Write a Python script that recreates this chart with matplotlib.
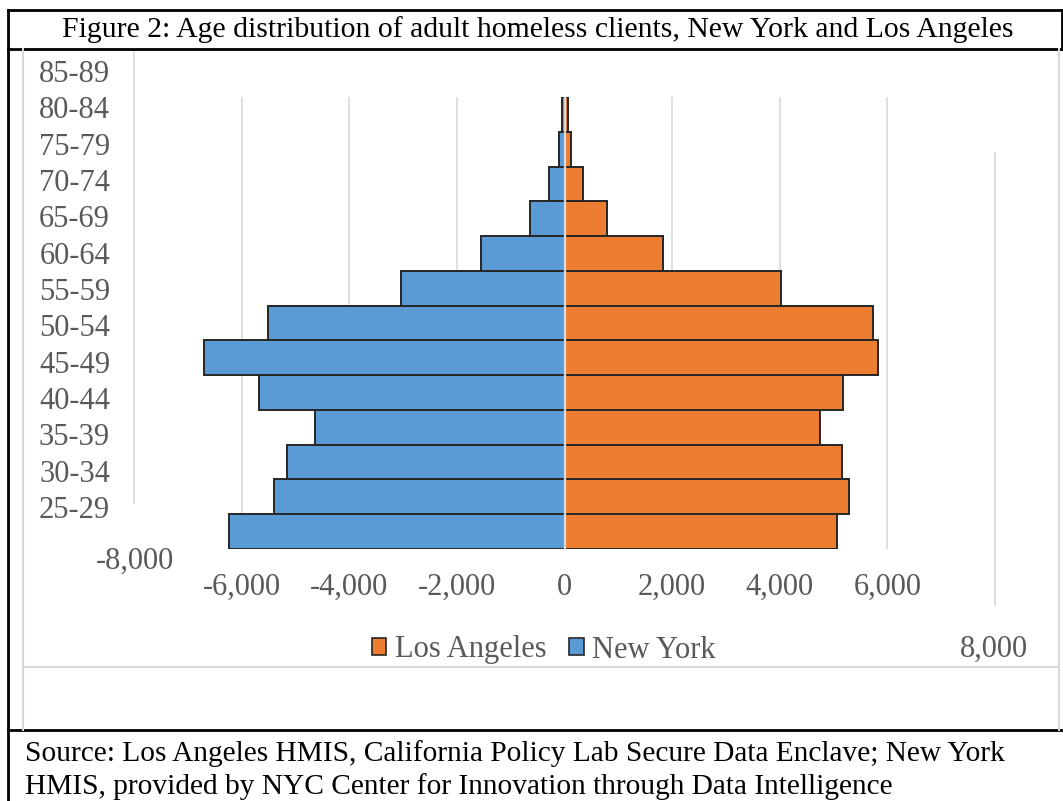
import matplotlib
matplotlib.use("Agg")
import matplotlib.pyplot as plt
from matplotlib.lines import Line2D
from matplotlib.patches import Patch

# bars, bottom to top
age_groups = ["18-24", "25-29", "30-34", "35-39", "40-44", "45-49", "50-54",
              "55-59", "60-64", "65-69", "70-74", "75-79", "80-84"]
new_york = [-6240, -5400, -5150, -4630, -5670, -6700, -5510,
            -3030, -1550, -640, -290, -110, -40]
los_angeles = [5070, 5280, 5160, 4750, 5180, 5820, 5730,
               4030, 1830, 785, 350, 130, 70]

# category labels as they appear on the axis (bottom to top)
axis_labels = ["25-29", "30-34", "35-39", "40-44", "45-49", "50-54", "55-59",
               "60-64", "65-69", "70-74", "75-79", "80-84", "85-89"]
x_ticks = [-6000, -4000, -2000, 0, 2000, 4000, 6000]

W, H = 1063, 801
BLUE = "#5B9BD5"
ORANGE = "#ED7D31"
EDGE = "#262626"
GRID = "#D9D9D9"
TXT = "#595959"
SERIF = ["Liberation Serif", "DejaVu Serif"]
FS = 22

plt.rcParams["font.family"] = SERIF


def fx(x):
    return x / W


def fy(y):
    return 1 - y / H


fig = plt.figure(figsize=(W / 100, H / 100), dpi=100)

# main plot area
ax = fig.add_axes([fx(134), fy(549), (995 - 134) / W, (549 - 97) / H])
pos = list(range(len(age_groups)))
ax.barh(pos, new_york, height=1.0, color=BLUE, edgecolor=EDGE, lw=1.4, zorder=2)
ax.barh(pos, los_angeles, height=1.0, color=ORANGE, edgecolor=EDGE, lw=1.4, zorder=2)
ax.set_xlim(-8000, 8000)
ax.set_ylim(-0.5, len(age_groups) - 0.5)
for t in x_ticks:
    if t != 0:
        ax.axvline(t, color=GRID, lw=1.2, zorder=0)
ax.axvline(0, color=GRID, lw=1.6, zorder=3)
for s in ax.spines.values():
    s.set_visible(False)
ax.set_yticks([])
ax.set_xticks(x_ticks, [f"{t:,}" for t in x_ticks])
ax.tick_params(axis="x", length=0, pad=17, labelsize=FS, labelcolor=TXT)

# the +/-8,000 gridlines and labels are displaced in the original
ax.plot([-8000, -8000], [-0.5 + 1.31, 12.5 + 1.31], color=GRID, lw=1.2,
        clip_on=False, zorder=0)
ax.plot([8000, 8000], [-0.5 - 1.62, 12.5 - 1.62], color=GRID, lw=1.2,
        clip_on=False, zorder=0)
ax.annotate("-8,000", xy=(-8000, 0), xycoords=("data", "axes fraction"),
            xytext=(1, -12), textcoords="offset pixels", ha="center", va="center",
            fontsize=FS, color=TXT, annotation_clip=False)
ax.annotate("8,000", xy=(8000, 0), xycoords=("data", "axes fraction"),
            xytext=(-1, -100), textcoords="offset pixels", ha="center", va="center",
            fontsize=FS, color=TXT, annotation_clip=False)

# category labels on their own (shifted) scale
lab = fig.add_axes([fx(117), fy(525.2), 0.001, (525.2 - 52.8) / H])
lab.set_ylim(-0.5, len(axis_labels) - 0.5)
lab.set_yticks(range(len(axis_labels)), axis_labels)
lab.set_xticks([])
lab.tick_params(axis="y", length=0, pad=5, labelsize=FS, labelcolor=TXT)
for s in lab.spines.values():
    s.set_visible(False)
lab.patch.set_visible(False)

# legend
handles = [Patch(facecolor=ORANGE, edgecolor=EDGE, lw=1.2, label="Los Angeles"),
           Patch(facecolor=BLUE, edgecolor=EDGE, lw=1.2, label="New York")]
fig.legend(handles=handles, loc="center", bbox_to_anchor=(fx(544), fy(650)),
           ncol=2, frameon=False, fontsize=FS, labelcolor=TXT,
           handlelength=0.46, handleheight=0.46, handletextpad=0.28,
           columnspacing=0.75, borderpad=0)

# title and source
fig.text(fx(538), fy(30), "Figure 2: Age distribution of adult homeless clients, "
         "New York and Los Angeles", ha="center", va="center", fontsize=21.4,
         color="black")
fig.text(fx(25), fy(754), "Source: Los Angeles HMIS, California Policy Lab Secure "
         "Data Enclave; New York", ha="left", va="center", fontsize=21.2,
         color="black")
fig.text(fx(25), fy(787), "HMIS, provided by NYC Center for Innovation through "
         "Data Intelligence", ha="left", va="center", fontsize=21.2, color="black")


def rule(x0, y0, x1, y1, color, lw):
    fig.add_artist(Line2D([fx(x0), fx(x1)], [fy(y0), fy(y1)], color=color, lw=lw,
                          transform=fig.transFigure))


# document table borders
rule(8, 10, 1063, 10, "black", 2)
rule(8, 49, 1063, 49, "black", 2)
rule(8, 730, 1063, 730, "black", 2)
rule(8, 10, 8, 801, "black", 2)
rule(1062, 10, 1062, 49, "black", 2)
# chart area border
rule(23, 49, 23, 730, GRID, 1.5)
rule(1059, 49, 1059, 730, GRID, 1.5)
rule(23, 667, 1059, 667, GRID, 1.5)

fig.savefig("out.png", dpi=100)
